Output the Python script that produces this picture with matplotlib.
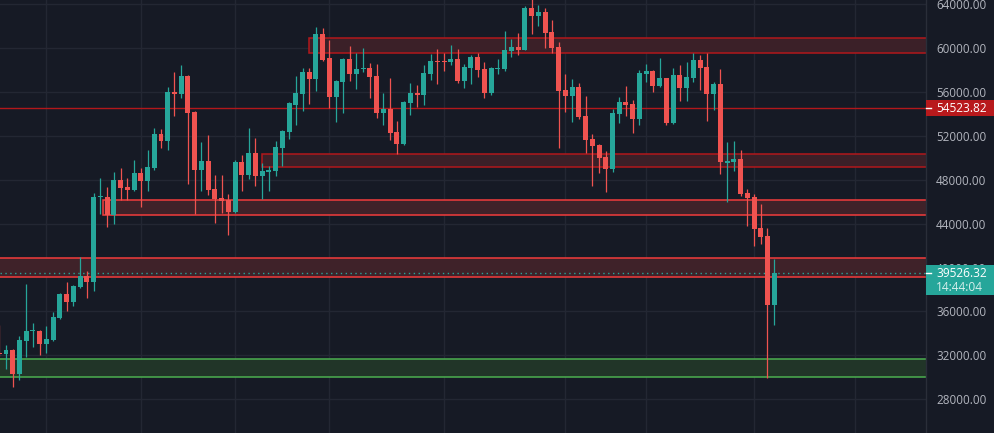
import numpy as np
import pandas as pd
import matplotlib
matplotlib.use("Agg")
import matplotlib.pyplot as plt
import matplotlib.transforms as mtransforms
from matplotlib.patches import Rectangle

# daily BTC candles, Jan 25 - May 20 2021
dates = pd.date_range("2021-01-25", "2021-05-20", freq="D")
opens = [32260, 32125, 32490, 30305, 33310, 34200, 34220, 33035, 33400, 35405,
         37590, 36860, 38230, 39230, 38710, 46380, 46420, 44785, 47970, 47335,
         47060, 48610, 47880, 49065, 52160, 51525, 55985, 55805, 57445, 54165,
         48880, 49700, 47150, 46330, 46150, 45055, 49610, 48425, 50430, 48335,
         48700, 48790, 50885, 52345, 54800, 55805, 57805, 57170, 61270, 59080,
         55530, 56900, 58990, 57625, 58080, 58170, 57445, 54075, 54440, 52345,
         51250, 54985, 55895, 55715, 57625, 58800, 58800, 58720, 58990, 56990,
         58170, 59175, 58080, 55895, 58080, 58080, 59720, 60085, 59810, 63635,
         62905, 63270, 61450, 60085, 56170, 55620, 56440, 53800, 51705, 51160,
         50065, 48975, 53980, 55075, 54895, 53525, 57625, 57900, 56530, 57260,
         53165, 57535, 56350, 57260, 58900, 58265, 55805, 56715, 49520, 49610,
         49885, 46790, 46420, 43600, 42870, 36590]
highs = [34800, 32945, 32580, 33765, 38500, 34950, 34310, 34675, 35950, 37680,
         38685, 38400, 40960, 39685, 46790, 48155, 47335, 48700, 49065, 48155,
         49795, 49065, 50705, 52705, 52615, 56440, 57805, 58445, 57535, 54255,
         51435, 52070, 48425, 48425, 46695, 49795, 50250, 52705, 51795, 49520,
         49245, 51525, 52500, 55050, 57445, 58170, 58170, 61905, 61815, 60720,
         57050, 59080, 60175, 59535, 59995, 58625, 58535, 55895, 57260, 53345,
         55165, 56805, 56625, 58445, 59445, 59900, 59535, 60265, 59900, 58535,
         59355, 59535, 58720, 58265, 58990, 61540, 60815, 61360, 63820, 64800,
         63910, 63635, 62545, 60540, 57625, 57170, 56805, 55620, 52160, 51250,
         50615, 54440, 55530, 56530, 55255, 57990, 58535, 57990, 59080, 57300,
         58170, 58445, 58720, 59535, 59355, 59535, 56895, 58080, 51435, 51525,
         50705, 47150, 46695, 45785, 43600, 40775]
lows = [31900, 30760, 29150, 29760, 31850, 32760, 32030, 32215, 33310, 35315,
        36040, 36500, 38135, 37225, 37890, 44875, 43690, 43965, 46150, 46150,
        46970, 45515, 46970, 48880, 50885, 50705, 53800, 55440, 47605, 44875,
        46970, 46605, 44055, 44965, 42960, 44965, 46970, 48065, 47425, 46240,
        46970, 48335, 49245, 51705, 52980, 54255, 54895, 56075, 58800, 54530,
        53255, 54075, 56990, 56260, 57805, 55440, 53620, 52980, 51615, 50340,
        51160, 53890, 54620, 54800, 57080, 56715, 57900, 58445, 56805, 56350,
        56715, 57350, 55440, 55715, 57625, 57900, 59175, 59355, 59810, 61270,
        61995, 59995, 59535, 50885, 54165, 53255, 53525, 50430, 47425, 48610,
        46880, 48700, 53165, 53800, 52250, 52980, 56895, 55985, 56440, 52980,
        53070, 55165, 55165, 56895, 56170, 53345, 54345, 48520, 45970, 48790,
        46515, 43780, 41960, 42145, 29940, 34765]
closes = [32150, 32490, 30305, 33400, 34220, 34260, 33035, 33490, 35495, 37590,
          36860, 38320, 39230, 38710, 46420, 46420, 44785, 47970, 47245, 47060,
          48610, 47880, 49155, 52160, 51525, 55985, 55805, 57445, 54075, 48880,
          49700, 47060, 46240, 46060, 45055, 49610, 48425, 50430, 48335, 48790,
          48880, 50975, 52435, 54985, 55895, 57805, 57170, 61270, 58900, 55530,
          56990, 58990, 57625, 58080, 58170, 57350, 54075, 54440, 52250, 51250,
          55075, 55895, 55715, 57715, 58810, 58740, 58720, 58990, 56990, 58265,
          59175, 57990, 55895, 58170, 58170, 59810, 60085, 59810, 63635, 62905,
          63270, 61360, 59995, 56075, 55620, 56440, 53710, 51615, 51070, 49975,
          48975, 54075, 55075, 54800, 53525, 57715, 57900, 56530, 57260, 53165,
          57535, 56350, 57350, 58900, 58170, 55805, 56715, 49610, 49700, 49885,
          46695, 46330, 43510, 42780, 36590, 39526.32]

# drawn zones: start date, bottom, top, kind
zone_starts = ["2020-12-01", "2020-12-01", "2021-02-09 10:00", "2021-03-05", "2021-03-12"]
zone_bottoms = [30060, 39166, 44810, 49128, 59510]
zone_tops = [31670, 40870, 46122, 50313, 60876]
zone_kinds = ["green", "bright", "bright", "dark", "dark"]

level_line = 54523.82
last_price = 39526.32
countdown = "14:44:04"
grid_dates = ["2021-02-01", "2021-02-15", "2021-03-01", "2021-03-15", "2021-04-01",
              "2021-04-19", "2021-05-01", "2021-05-17", "2021-06-01"]
price_ticks = list(range(28000, 64001, 4000))

bg = "#161a25"
up_col = "#26a69a"
down_col = "#ef5350"
grid_col = "#232733"
text_col = "#b2b5be"

day0 = pd.Timestamp("2021-01-01")
x = np.array((dates - day0).days, dtype=float)
o = np.array(opens); h = np.array(highs); l = np.array(lows); c = np.array(closes)

fig = plt.figure(figsize=(9.94, 4.33), dpi=100, facecolor=bg)
ax = fig.add_axes([0, 0, 926 / 994, 1])
ax.set_facecolor(bg)
xmin, xmax = 24.11, 161.52
ax.set_xlim(xmin, xmax)
ax.set_ylim(24931, 64364)

ax.set_yticks(price_ticks)
ax.set_yticklabels([f"{t:.2f}" for t in price_ticks])
ax.yaxis.tick_right()
ax.tick_params(axis="y", length=0, pad=7.2, labelcolor=text_col, labelsize=8.4)
for lab in ax.get_yticklabels():
    lab.set_family(["Open Sans", "DejaVu Sans"])
ax.set_xticks([])
for t in price_ticks:
    ax.axhline(t, color=grid_col, lw=1, zorder=0)
for g in grid_dates:
    ax.axvline((pd.Timestamp(g) - day0).days, color=grid_col, lw=1, zorder=0)
for s in ["top", "left", "bottom"]:
    ax.spines[s].set_visible(False)
ax.spines["right"].set_color("#2a2e39")
ax.spines["right"].set_linewidth(1)

# zones
styles = {"green": ("#213528", "#4caf50"), "bright": ("#3f2229", "#f23c3c"),
          "dark": ("#3b2028", "#b2181b")}
for st, b, tp, k in zip(zone_starts, zone_bottoms, zone_tops, zone_kinds):
    fc, ec = styles[k]
    x0 = (pd.Timestamp(st) - day0) / pd.Timedelta(days=1)
    ax.add_patch(Rectangle((x0, b), xmax + 10 - x0, tp - b, facecolor=fc,
                           edgecolor=ec, lw=1.1, zorder=1))

ax.axhline(level_line, color="#b2181b", lw=1, zorder=1.5)
ax.axhline(last_price, color=up_col, lw=1, ls=(0, (1, 2.5)), zorder=1.5)

# candles
up = c >= o
cols = np.where(up, up_col, down_col)
body_lo = np.minimum(o, c)
body_h = np.maximum(np.abs(c - o), 90)
ax.vlines(x, l, h, colors=cols, lw=0.9, zorder=3)
ax.bar(x, body_h, bottom=body_lo, width=0.74, color=cols, lw=0, zorder=4)

# price labels on the scale
trans = mtransforms.blended_transform_factory(ax.transAxes, ax.transData)
px = 91.07  # price per pixel
bw = 68 / 926
ax.add_patch(Rectangle((1.0, level_line - 8 * px), bw, 16 * px, transform=trans,
                       facecolor="#b8191c", edgecolor="none", clip_on=False, zorder=10))
ax.text(1.0 + 10 / 926, level_line, f"{level_line:.2f}", transform=trans, color="white",
        fontsize=8.6, family=["Open Sans", "DejaVu Sans"], va="center", ha="left",
        clip_on=False, zorder=11)
ax.add_patch(Rectangle((1.0, last_price - 22.6 * px), bw, 30.4 * px, transform=trans,
                       facecolor=up_col, edgecolor="none", clip_on=False, zorder=10))
ax.text(1.0 + 10 / 926, last_price - 0.6 * px, f"{last_price:.2f}", transform=trans,
        color="white", fontsize=8.6, family=["Open Sans", "DejaVu Sans"], va="center",
        ha="left", clip_on=False, zorder=11)
ax.text(1.0 + 10 / 926, last_price - 14.5 * px, countdown, transform=trans,
        color="#d6efec", fontsize=8.6, family=["Open Sans", "DejaVu Sans"], va="center",
        ha="left", clip_on=False, zorder=11)
for yv in [level_line, last_price]:
    ax.plot([1.0, 1.0 + 5 / 926], [yv, yv], transform=trans, color="white", lw=1,
            clip_on=False, zorder=12)

fig.savefig("out.png", dpi=100, facecolor=bg)
